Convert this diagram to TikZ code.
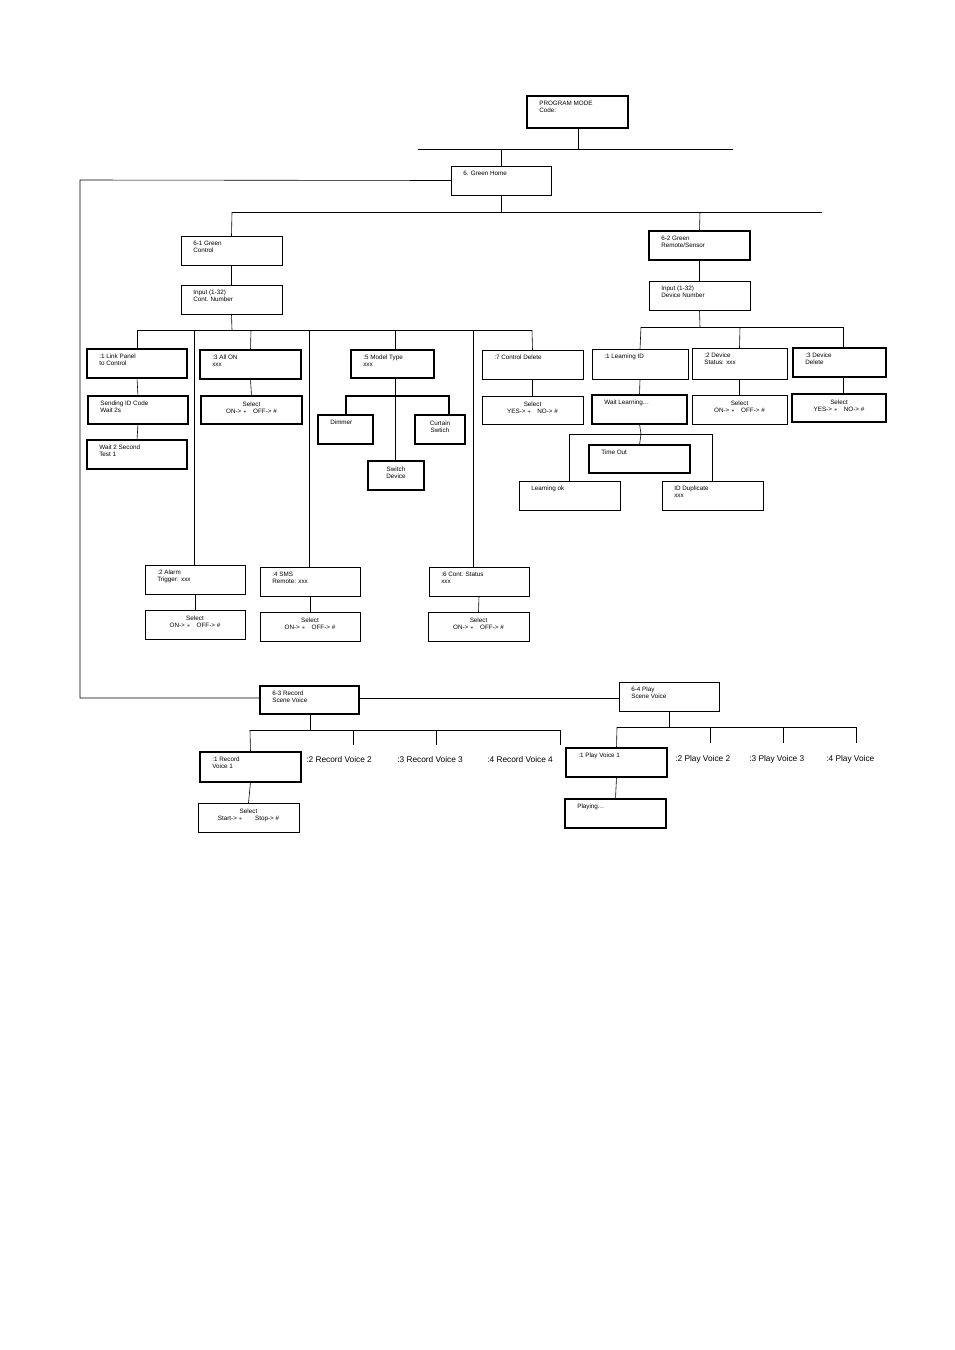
\documentclass[tikz,border=0pt]{standalone}
\usepackage{fontspec}
\setmainfont{Liberation Sans}
\usepackage{amssymb}
\begin{document}
\begin{tikzpicture}[x=1pt,y=-1pt,line width=0.6pt,
  bxs/.style={draw,inner sep=0pt,outer sep=0pt,anchor=north west},
  hv/.style={line width=1.4pt},
  tl/.style={anchor=north west,inner sep=0pt,align=left,font=\fontsize{6.3}{6.5}\selectfont},
  tc/.style={anchor=north,inner sep=0pt,align=center,font=\fontsize{6.3}{6.5}\selectfont},
  vl/.style={anchor=west,inner sep=0pt,font=\fontsize{8.3}{9}\selectfont}]
\useasboundingbox (0,0) rectangle (954,1350);
\newcommand\bx[7][]{\node[bxs,#1,minimum width={#4-#2},minimum height={#5-#3}] (#6) at (#2,#3) {};
  \node[tl] at ([xshift=12pt,yshift=-5pt]#6.north west) {#7};}
\newcommand\bxc[7][]{\node[bxs,#1,minimum width={#4-#2},minimum height={#5-#3}] (#6) at (#2,#3) {};
  \node[tc] at ([yshift=-6pt]#6.north) {#7};}
\def\st{$\ast$}
\def\hs{\#}
% top
\bx[hv]{527}{96}{628}{128}{pm}{PROGRAM MODE\\Code:}
\bx{451}{166}{551}{195}{gh}{6. Green Home}
\draw (418,149) -- (733,149);
\draw (578,128) -- (578,149);
\draw (501,149) -- (gh.north);
\draw (gh.west) -- (80,180) -- (80,698) -- (260,698);
\draw (gh.south) -- (501,212);
\draw (232,212) -- (822,212);
% 6-1
\bx{181}{236}{282}{265}{g1}{6-1 Green\\Control}
\bx{181}{285}{282}{314}{in1}{Input (1-32)\\Cont. Number}
\draw (232,212) -- (g1.north); \draw (g1.south) -- (in1.north);
\draw (in1.south) -- (232,330);
\draw (137,330) -- (532,330);
\bx[hv]{87}{349}{187}{378}{lp}{:1 Link Panel\\to Control}
\bx[hv]{88}{396}{188}{424}{sid}{Sending ID Code\\Wait 2s}
\bx[hv]{87}{440}{187}{469}{w2}{Wait 2 Second\\Test 1}
\draw (137,330) -- (lp.north); \draw (lp.south) -- (sid.north); \draw (sid.south) -- (w2.north);
\bx[hv]{200}{350}{301}{379}{ao}{:3 All ON\\xxx}
\bxc[hv]{201}{396}{302}{424}{aos}{Select\\ON-> \st\quad OFF-> \hs}
\draw (251,330) -- (ao.north); \draw (ao.south) -- (aos.north);
\bx[hv]{351}{350}{434}{378}{mt}{:5 Model Type\\xxx}
\draw (395,330) -- (395,350);
\bx[hv]{318}{415}{373}{444}{dim}{Dimmer}
\bxc[hv]{415}{415}{465}{444}{cur}{Curtain\\Swtich}
\bxc[hv]{368}{461}{424}{490}{swd}{Switch\\Device}
\draw (395,378) -- (395,461);
\draw[hv] (346,415) -- (346,396) -- (449,396) -- (449,415);
\bx{482}{350}{583}{379}{cd}{:7 Control Delete}
\bxc{482}{396}{583}{424}{cds}{Select\\YES-> \st\quad NO-> \hs}
\draw (532,330) -- (cd.north); \draw (cd.south) -- (cds.north);
\bx{145}{565}{245}{594}{al}{:2 Alarm\\Trigger: xxx}
\bxc{145}{610}{245}{639}{als}{Select\\ON-> \st\quad OFF-> \hs}
\draw (194,330) -- (194,565); \draw (al.south) -- (als.north);
\bx{260}{567}{360}{596}{sms}{:4 SMS\\Remote: xxx}
\bxc{260}{612}{360}{641}{smss}{Select\\ON-> \st\quad OFF-> \hs}
\draw (309,330) -- (309,567); \draw (sms.south) -- (smss.north);
\bx{429}{567}{529}{596}{cs}{:6 Cont. Status\\xxx}
\bxc{428}{612}{529}{641}{css}{Select\\ON-> \st\quad OFF-> \hs}
\draw (473,330) -- (473,567); \draw (cs.south) -- (css.north);
% 6-2
\bx[hv]{649}{231}{750}{260}{g2}{6-2 Green\\Remote/Sensor}
\bx{649}{281}{750}{310}{in2}{Input (1-32)\\Device Number}
\draw (700,212) -- (g2.north); \draw (g2.south) -- (in2.north);
\draw (in2.south) -- (700,327);
\draw (641,327) -- (843,327);
\bx{592}{349}{688}{379}{lid}{:1 Learning ID}
\bx[hv]{592}{395}{687}{424}{wl}{Wait Learning…}
\draw (641,327) -- (lid.north); \draw (lid.south) -- (wl.north);
\draw (wl.south) -- (641,434);
\draw (569,481) -- (569,434) -- (712,434) -- (712,481);
\bx[hv]{589}{445}{690}{473}{to}{Time Out}
\draw (641,434) -- (to.north);
\bx{519}{481}{620}{510}{lok}{Learning ok}
\bx{662}{481}{763}{510}{idd}{ID Duplicate\\xxx}
\bx{692}{348}{787}{379}{ds}{:2 Device\\Status: xxx}
\bxc{692}{395}{787}{424}{dss}{Select\\ON-> \st\quad OFF-> \hs}
\draw (740,327) -- (ds.north); \draw (ds.south) -- (dss.north);
\bx[hv]{793}{348}{886}{377}{dd}{:3 Device\\Delete}
\bxc[hv]{792}{394}{886}{422}{dds}{Select\\YES-> \st\quad NO-> \hs}
\draw (843,327) -- (843,348); \draw (843,377) -- (843,394);
% 6-3 / 6-4
\bx[hv]{260}{686}{359}{714}{g3}{6-3 Record\\Scene Voice}
\bx{619}{682}{719}{711}{g4}{6-4 Play\\Scene Voice}
\draw (359,698) -- (619,698);
\draw (310,714) -- (310,730);
\draw (250,730) -- (560,730);
\draw (353,730) -- (353,745); \draw (436,730) -- (436,745); \draw (560,730) -- (560,745);
\bx[hv]{200}{752}{301}{782}{r1}{:1 Record\\Voice 1}
\bxc{198}{803}{299}{832}{r1s}{Select\\Start-> \st\qquad Stop-> \hs}
\draw (250,730) -- (r1.north); \draw (r1.south) -- (r1s.north);
\node[vl] (r2) at (306,760) {:2 Record Voice 2};
\node[vl] (r3) at (397,760) {:3 Record Voice 3};
\node[vl] (r4) at (487,760) {:4 Record Voice 4};
\draw (669,711) -- (669,727);
\draw (617,727) -- (856,727);
\draw (710,727) -- (710,743); \draw (783,727) -- (783,743); \draw (856,727) -- (856,743);
\bx[hv]{566}{748}{667}{777}{p1}{:1 Play Voice 1}
\bx[hv]{565}{799}{666}{828}{pl}{Playing…}
\draw (617,727) -- (p1.north); \draw (p1.south) -- (pl.north);
\node[vl] (p2) at (675,759) {:2 Play Voice 2};
\node[vl] (p3) at (749,759) {:3 Play Voice 3};
\node[vl] (p4) at (826,759) {:4 Play Voice};
\end{tikzpicture}
\end{document}
